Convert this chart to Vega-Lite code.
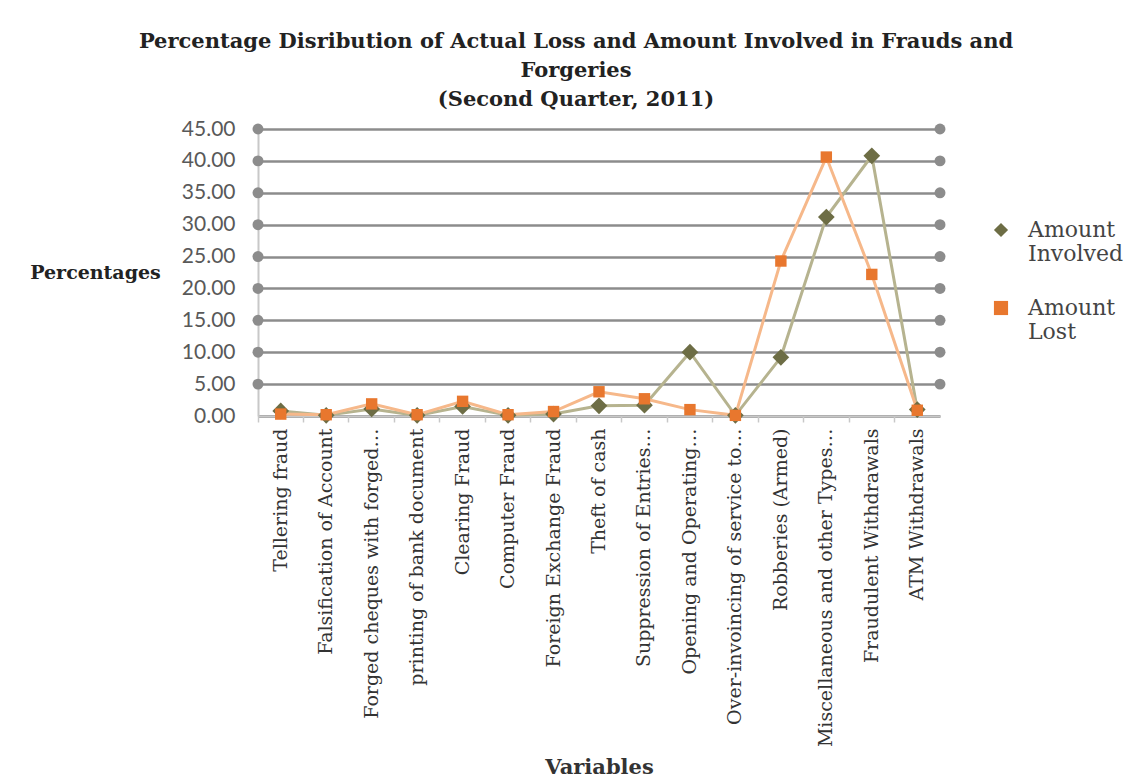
{
  "$schema": "https://vega.github.io/schema/vega-lite/v6.json",
  "autosize": "none",
  "width": 682,
  "height": 287,
  "padding": {"left": 258, "top": 129, "right": 197, "bottom": 367},
  "background": "white",
  "title": {
    "text": ["Percentage Disribution of Actual Loss and Amount Involved in Frauds and", "Forgeries", "(Second Quarter, 2011)"],
    "font": "DejaVu Serif",
    "fontSize": 21,
    "fontWeight": "bold",
    "color": "#222222",
    "lineHeight": 29,
    "anchor": "middle",
    "dx": -23,
    "offset": 8
  },
  "datasets": {
    "main": [
      {"cat": "Tellering fraud", "series": "Amount Involved", "value": 0.8},
      {"cat": "Falsification of Account", "series": "Amount Involved", "value": 0.1},
      {"cat": "Forged cheques with forged…", "series": "Amount Involved", "value": 1.1},
      {"cat": "printing of bank document", "series": "Amount Involved", "value": 0.1},
      {"cat": "Clearing Fraud", "series": "Amount Involved", "value": 1.5},
      {"cat": "Computer Fraud", "series": "Amount Involved", "value": 0.1},
      {"cat": "Foreign Exchange Fraud", "series": "Amount Involved", "value": 0.3},
      {"cat": "Theft of cash", "series": "Amount Involved", "value": 1.6},
      {"cat": "Suppression of Entries…", "series": "Amount Involved", "value": 1.7},
      {"cat": "Opening and Operating…", "series": "Amount Involved", "value": 10.0},
      {"cat": "Over-invoincing of service to…", "series": "Amount Involved", "value": 0.1},
      {"cat": "Robberies (Armed)", "series": "Amount Involved", "value": 9.2},
      {"cat": "Miscellaneous and other Types…", "series": "Amount Involved", "value": 31.2},
      {"cat": "Fraudulent Withdrawals", "series": "Amount Involved", "value": 40.8},
      {"cat": "ATM Withdrawals", "series": "Amount Involved", "value": 1.0},
      {"cat": "Tellering fraud", "series": "Amount Lost", "value": 0.3},
      {"cat": "Falsification of Account", "series": "Amount Lost", "value": 0.2},
      {"cat": "Forged cheques with forged…", "series": "Amount Lost", "value": 1.9},
      {"cat": "printing of bank document", "series": "Amount Lost", "value": 0.2},
      {"cat": "Clearing Fraud", "series": "Amount Lost", "value": 2.3},
      {"cat": "Computer Fraud", "series": "Amount Lost", "value": 0.2},
      {"cat": "Foreign Exchange Fraud", "series": "Amount Lost", "value": 0.7},
      {"cat": "Theft of cash", "series": "Amount Lost", "value": 3.8},
      {"cat": "Suppression of Entries…", "series": "Amount Lost", "value": 2.7},
      {"cat": "Opening and Operating…", "series": "Amount Lost", "value": 1.0},
      {"cat": "Over-invoincing of service to…", "series": "Amount Lost", "value": 0.1},
      {"cat": "Robberies (Armed)", "series": "Amount Lost", "value": 24.3},
      {"cat": "Miscellaneous and other Types…", "series": "Amount Lost", "value": 40.6},
      {"cat": "Fraudulent Withdrawals", "series": "Amount Lost", "value": 22.2},
      {"cat": "ATM Withdrawals", "series": "Amount Lost", "value": 0.9}
    ],
    "leftdots": [
      {"cat": "Tellering fraud", "v": 5}, {"cat": "Tellering fraud", "v": 10}, {"cat": "Tellering fraud", "v": 15},
      {"cat": "Tellering fraud", "v": 20}, {"cat": "Tellering fraud", "v": 25}, {"cat": "Tellering fraud", "v": 30},
      {"cat": "Tellering fraud", "v": 35}, {"cat": "Tellering fraud", "v": 40}, {"cat": "Tellering fraud", "v": 45}
    ],
    "rightdots": [
      {"cat": "ATM Withdrawals", "v": 5}, {"cat": "ATM Withdrawals", "v": 10}, {"cat": "ATM Withdrawals", "v": 15},
      {"cat": "ATM Withdrawals", "v": 20}, {"cat": "ATM Withdrawals", "v": 25}, {"cat": "ATM Withdrawals", "v": 30},
      {"cat": "ATM Withdrawals", "v": 35}, {"cat": "ATM Withdrawals", "v": 40}, {"cat": "ATM Withdrawals", "v": 45}
    ]
  },
  "config": {
    "view": {"stroke": null},
    "axisY": {
      "title": "Percentages", "titleAngle": 0,
      "titleFont": "DejaVu Serif", "titleFontSize": 19, "titleFontWeight": "bold", "titleColor": "#222222",
      "titleX": -163, "titleY": 143, "titleAlign": "center", "titleBaseline": "middle",
      "tickCount": 9, "format": ".2f",
      "labelFont": "Lato", "labelFontSize": 21, "labelColor": "#595959", "labelPadding": 23,
      "labelOverlap": false,
      "ticks": false, "domainColor": "#c8c8c8", "domainWidth": 2,
      "grid": true, "gridColor": "#8c8c8c", "gridWidth": 2.5
    },
    "legend": {
      "orient": "none", "legendX": 732, "legendY": 90,
      "labelFont": "DejaVu Serif", "labelFontSize": 22, "labelColor": "#444444", "labelLimit": 200,
      "labelOffset": 16, "symbolSize": 200, "rowPadding": 32
    }
  },
  "layer": [
    {
      "data": {"name": "main"},
      "mark": {"type": "line", "strokeWidth": 3},
      "encoding": {
        "x": {
          "field": "cat", "type": "nominal", "sort": null,
          "scale": {"type": "band", "paddingInner": 0, "paddingOuter": 0},
          "axis": {
            "title": "Variables",
            "titleFont": "DejaVu Serif", "titleFontSize": 21, "titleFontWeight": "bold", "titleColor": "#333333",
            "titleY": 351, "titleBaseline": "middle",
            "labelAngle": -90, "labelFont": "DejaVu Serif", "labelFontSize": 19, "labelColor": "#333333",
            "labelPadding": 6, "labelLimit": 400, "labelOverlap": false,
            "bandPosition": 0, "ticks": true, "tickColor": "#c8c8c8", "tickSize": 6, "tickWidth": 1.5,
            "domainColor": "#c8c8c8", "domainWidth": 1.5, "grid": false
          }
        },
        "y": {
          "field": "value", "type": "quantitative",
          "scale": {"domain": [0, 45], "nice": false},
          "title": "Percentages"
        },
        "detail": {"field": "series", "type": "nominal"},
        "stroke": {"condition": {"test": "datum.series == 'Amount Involved'", "value": "#b6b38f"}, "value": "#f6b88a"}
      }
    },
    {
      "data": {"name": "main"},
      "mark": {"type": "point", "filled": true, "opacity": 1},
      "encoding": {
        "x": {"field": "cat", "type": "nominal", "sort": null},
        "y": {"field": "value", "type": "quantitative", "title": "Percentages"},
        "color": {
          "field": "series", "type": "nominal", "title": null,
          "scale": {"domain": ["Amount Involved", "Amount Lost"], "range": ["#6d6d45", "#e8772e"]},
          "legend": {"labelExpr": "split(datum.label, ' ')"}
        },
        "shape": {
          "field": "series", "type": "nominal", "title": null,
          "scale": {"domain": ["Amount Involved", "Amount Lost"], "range": ["diamond", "square"]},
          "legend": {"labelExpr": "split(datum.label, ' ')"}
        },
        "size": {"condition": {"test": "datum.series == 'Amount Involved'", "value": 280}, "value": 130}
      }
    },
    {
      "data": {"name": "leftdots"},
      "mark": {"type": "point", "filled": true, "size": 120, "opacity": 1, "color": "#8c8c8c"},
      "encoding": {
        "x": {"field": "cat", "type": "nominal", "sort": null, "bandPosition": 0},
        "y": {"field": "v", "type": "quantitative", "title": "Percentages"}
      }
    },
    {
      "data": {"name": "rightdots"},
      "mark": {"type": "point", "filled": true, "size": 120, "opacity": 1, "color": "#8c8c8c"},
      "encoding": {
        "x": {"field": "cat", "type": "nominal", "sort": null, "bandPosition": 1},
        "y": {"field": "v", "type": "quantitative", "title": "Percentages"}
      }
    }
  ]
}
